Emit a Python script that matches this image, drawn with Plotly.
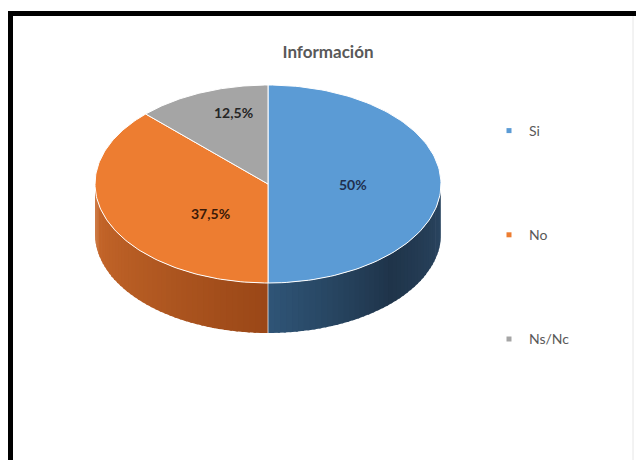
import numpy as np
import plotly.graph_objects as go

# ---- data ----
categories = ["Si", "No", "Ns/Nc"]
values = [50, 37.5, 12.5]
labels_txt = ["50%", "37,5%", "12,5%"]
title_txt = "Información"

# ---- style ----
top_colors = ["#5b9bd5", "#ed7d31", "#a5a5a5"]
label_colors = ["#1f2f4f", "#3a1a08", "#262626"]
side_grad = [("#2f5577", "#1f344a", "#2c4864"), ("#9a4717", "#b35a22", "#c9692c"), ("#7a7a7a", "#8a8a8a", "#999999")]
FONT = "Lato, Calibri, Carlito, sans-serif"
W, H = 636, 460
cx, cy, rx, ry, depth = 268, 184, 173, 99, 50
label_frac = [(0.49, 0), (0.36, 16), (0.52, -24)]

def hex2rgb(h):
    h = h.lstrip("#")
    return np.array([int(h[i:i + 2], 16) for i in (0, 2, 4)], dtype=float)

def blend(stops, t):
    a, b, c = [hex2rgb(s) for s in stops]
    col = a + (b - a) * (t / 0.5) if t < 0.5 else b + (c - b) * ((t - 0.5) / 0.5)
    return "rgb(%d,%d,%d)" % tuple(col.round())

def pt(theta_deg, dy=0.0):
    t = np.radians(theta_deg)
    return cx + rx * np.sin(t), cy - ry * np.cos(t) + dy

fig = go.Figure()

total = float(sum(values))
starts = np.concatenate([[0], np.cumsum(values)[:-1]]) / total * 360
ends = np.cumsum(values) / total * 360

# sides (only front half visible: 90..270)
for i in range(len(values)):
    a0, a1 = max(starts[i], 90), min(ends[i], 270)
    if a1 <= a0:
        continue
    n = max(int((a1 - a0) / 2), 1)
    edges = np.linspace(a0, a1, n + 1)
    for k in range(n):
        e0 = edges[k]
        e1 = min(edges[k + 1] + 0.8, a1)  # overlap to hide seams
        th = np.linspace(e0, e1, 4)
        xs_t, ys_t = pt(th)
        xs_b, ys_b = pt(th[::-1], depth)
        if i == 0:
            col = blend(side_grad[i], 1 - (k + 0.5) / n)
        else:
            col = blend(side_grad[i], (k + 0.5) / n)
        fig.add_trace(go.Scatter(
            x=np.concatenate([xs_t, xs_b]), y=np.concatenate([ys_t, ys_b]),
            fill="toself", fillcolor=col, mode="lines",
            line=dict(color=col, width=0), hoverinfo="skip", showlegend=False))

xb, yb = pt(180)
fig.add_trace(go.Scatter(x=[xb, xb], y=[yb, yb + depth], mode="lines",
                         line=dict(color="rgba(255,255,255,0.7)", width=1),
                         hoverinfo="skip", showlegend=False))

# top faces
for i in range(len(values)):
    th = np.linspace(starts[i], ends[i], 120)
    xs, ys = pt(th)
    fig.add_trace(go.Scatter(
        x=np.concatenate([[cx], xs, [cx]]), y=np.concatenate([[cy], ys, [cy]]),
        fill="toself", fillcolor=top_colors[i], mode="lines",
        line=dict(color="white", width=1), hoverinfo="skip", showlegend=False))

# labels
for i in range(len(values)):
    mid = (starts[i] + ends[i]) / 2
    f, dy = label_frac[i]
    t = np.radians(mid)
    lx = cx + f * rx * np.sin(t)
    ly = cy - f * ry * np.cos(t) + dy
    fig.add_annotation(x=lx, y=ly, text="<b>%s</b>" % labels_txt[i], showarrow=False,
                       font=dict(family=FONT, size=14, color=label_colors[i]))

# legend entries
for i, c in enumerate(categories):
    fig.add_trace(go.Scatter(x=[None], y=[None], mode="markers", name=c,
                             legendgroup=c,
                             marker=dict(symbol="square", size=5, color=top_colors[i])))

# frame
fig.add_shape(type="line", x0=8, x1=W, y0=13.5, y1=13.5, line=dict(color="black", width=5))
fig.add_shape(type="line", x0=10.5, x1=10.5, y0=11, y1=H, line=dict(color="black", width=5))
fig.add_shape(type="line", x0=633, x1=633, y0=16, y1=H, line=dict(color="#e6e6e6", width=1))

fig.update_layout(
    width=W, height=H, margin=dict(l=0, r=0, t=0, b=0),
    paper_bgcolor="white", plot_bgcolor="white",
    xaxis=dict(range=[0, W], visible=False, fixedrange=True),
    yaxis=dict(range=[H, 0], visible=False, fixedrange=True),
    title=dict(text="<b>%s</b>" % title_txt, x=328 / W, xanchor="center", y=1 - 52 / H, yanchor="middle",
               font=dict(family=FONT, size=17, color="#595959")),
    legend=dict(x=489 / W, y=1 - 115 / H, xanchor="left", yanchor="top",
                font=dict(family=FONT, size=14, color="#595959"),
                tracegroupgap=83, itemwidth=30, bgcolor="rgba(0,0,0,0)"),
    showlegend=True,
)

fig.write_html("out.html")
